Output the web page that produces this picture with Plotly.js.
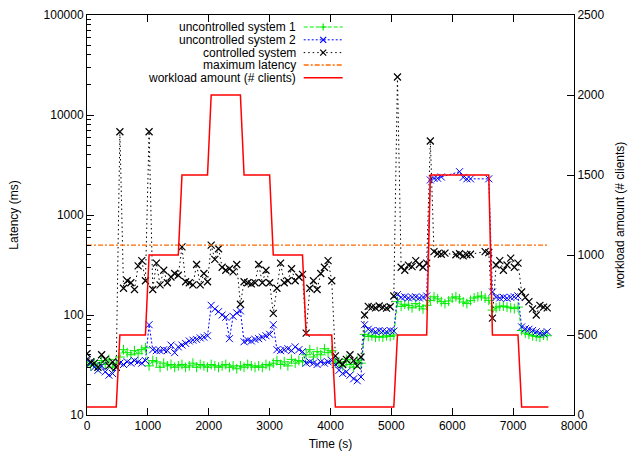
<!DOCTYPE html>
<html>
<head>
<meta charset="utf-8">
<script src="https://cdn.plot.ly/plotly-3.0.1.min.js"></script>
<style>html,body{margin:0;padding:0;background:#fff;}#chart{width:638px;height:455px;}</style>
</head>
<body>
<div id="chart"></div>
<script>
// ---- data ----
const timeSec = [
  0,60,120,180,240,300,360,420,480,540,
  600,660,720,780,840,900,960,1020,1080,1140,
  1200,1260,1320,1380,1440,1500,1560,1620,1680,1740,
  1800,1860,1920,1980,2040,2100,2160,2220,2280,2340,
  2400,2460,2520,2580,2640,2700,2760,2820,2880,2940,
  3000,3060,3120,3180,3240,3300,3360,3420,3480,3540,
  3600,3660,3720,3780,3840,3900,3960,4020,4080,4140,
  4200,4260,4320,4380,4440,4500,4560,4620,4680,4740,
  4800,4860,4920,4980,5040,5100,5160,5220,5280,5340,
  5400,5460,5520,5580,5640,5700,5760,5820,5880,5940,
  6000,6060,6120,6180,6240,6300,6360,6420,6480,6540,
  6600,6660,6720,6780,6840,6900,6960,7020,7080,7140,
  7200,7260,7320,7380,7440,7500,7560
];

const uncontrolled1 = [
  34,31,33,30,35,32,36,30,33,
  38,45,42,40,44,41,45,47,
  31,35,34,30,33,31,32,30,31,
  32,30,31,33,30,32,31,30,
  32,31,30,31,32,30,31,29,31,
  30,32,31,30,31,30,32,31,
  33,35,32,34,31,36,33,35,34,
  40,45,38,43,40,46,42,44,
  33,34,31,36,32,30,35,33,
  64,61,62,60,61,60,62,61,63,
  136,122,128,124,118,130,122,115,125,
  140,152,145,136,130,138,148,152,145,135,130,140,148,152,155,148,140,
  112,118,122,123,120,118,116,120,
  70,66,64,62,61,60,63,62
];

const uncontrolled2 = [
  36,33,30,28,31,27,25,26,30,
  33,32,34,33,35,34,33,35,
  80,45,44,44,45,44,50,42,48,
  50,52,55,56,57,59,60,62,
  125,115,108,100,95,58,97,105,110,
  54,56,55,57,58,60,62,64,
  80,45,44,45,46,44,48,45,43,
  33,34,33,32,34,33,34,35,
  32,28,26,27,25,23,22,24,
  80,72,70,68,70,69,68,70,69,
  160,150,152,148,150,152,148,150,155,
  2240,2320,2330,2400,null,null,null,null,2710,2380,2300,2300,null,null,null,null,2300,
  170,150,148,150,147,150,152,155,
  76,73,72,70,68,66,65,68
];

const controlled = [
  41,34,33,30,40,36,31,34,30,
  6800,185,220,210,180,310,350,220,
  6800,180,330,200,280,210,240,260,250,
  480,215,210,200,320,200,260,215,
  500,360,460,300,280,290,270,320,128,
  215,210,205,210,320,210,280,210,
  104,185,330,210,220,290,220,240,255,
  66,185,220,180,260,300,350,220,
  39,34,32,36,40,35,31,38,
  100,122,120,118,123,119,117,121,155,
  24000,300,280,315,305,350,320,300,330,
  5500,430,410,405,415,null,null,400,410,390,400,405,null,null,null,430,420,
  93,316,350,280,316,370,300,330,
  170,150,136,115,100,125,120,118
];

const maxLatencyTime = [0, 7580];
const maxLatencyMs = [500, 500];

const workloadTime = [0,480,540,960,1020,1500,1560,1980,2040,2520,2580,3000,3060,3540,3600,4020,4080,5040,5100,5580,5640,6600,6660,7080,7140,7580];
const workloadClients = [50,50,500,500,1000,1000,1500,1500,2000,2000,1500,1500,1000,1000,500,500,50,50,500,500,1500,1500,500,500,50,50];

const seriesNames = ['uncontrolled system 1','uncontrolled system 2','controlled system','maximum latency','workload amount (# clients)'];
const yTickVals = [10,100,1000,10000,100000];
const yTickText = ['10','100','1000','10000','100000'];
const yMinorVals = [20,30,40,50,60,70,80,90,200,300,400,500,600,700,800,900,2000,3000,4000,5000,6000,7000,8000,9000,20000,30000,40000,50000,60000,70000,80000,90000];

// ---- styles ----
const GREEN = '#00ee00', BLUE = '#0000ff', BLACK = '#000000', ORANGE = '#ff6a00', RED = '#ff0000';
const FONT = 'Liberation Sans, Arial, Helvetica, sans-serif';

const traces = [
  {x: timeSec, y: uncontrolled1, name: seriesNames[0], type: 'scatter', mode: 'lines+markers',
   line: {color: GREEN, width: 1, dash: '4px,2px'},
   marker: {symbol: 'cross-thin-open', size: 7, color: GREEN, line: {color: GREEN, width: 1}}},
  {x: timeSec, y: uncontrolled2, name: seriesNames[1], type: 'scatter', mode: 'lines+markers', connectgaps: true,
   line: {color: BLUE, width: 1, dash: '2px,2px'},
   marker: {symbol: 'x-thin-open', size: 7, color: BLUE, line: {color: BLUE, width: 1}}},
  {x: timeSec, y: controlled, name: seriesNames[2], type: 'scatter', mode: 'lines+markers', connectgaps: true,
   line: {color: BLACK, width: 1, dash: '1.5px,3px'},
   marker: {symbol: 'x-thin-open', size: 7, color: BLACK, line: {color: BLACK, width: 1.2}}},
  {x: maxLatencyTime, y: maxLatencyMs, name: seriesNames[3], type: 'scatter', mode: 'lines',
   line: {color: ORANGE, width: 1.3, dash: '5px,2px,2px,2px'}},
  {x: workloadTime, y: workloadClients, name: seriesNames[4], type: 'scatter', mode: 'lines', yaxis: 'y2',
   line: {color: RED, width: 1.5}}
];

// ---- custom gnuplot-style key (text right, sample left) ----
const keyTextX = 0.431, keyX0 = 0.445, keyX1 = 0.525, keyMid = 0.485;
const keyY = [0.970, 0.938, 0.906, 0.875, 0.843];
const keyStyle = [
  {c: GREEN, d: '4px,2px', m: '+', w: 1},
  {c: BLUE, d: '2px,2px', m: 'x', w: 1},
  {c: BLACK, d: '1.5px,3px', m: 'x', w: 1},
  {c: ORANGE, d: '5px,2px,2px,2px', m: null, w: 1.3},
  {c: RED, d: 'solid', m: null, w: 1.5}
];
const annotations = [], shapes = [];
seriesNames.forEach((nm, i) => {
  annotations.push({xref: 'paper', yref: 'paper', x: keyTextX, y: keyY[i], xanchor: 'right', yanchor: 'middle',
    text: nm, showarrow: false, borderpad: 0, font: {family: FONT, size: 12, color: '#000'}});
  shapes.push({type: 'line', xref: 'paper', yref: 'paper', x0: keyX0, x1: keyX1, y0: keyY[i], y1: keyY[i],
    line: {color: keyStyle[i].c, width: keyStyle[i].w, dash: keyStyle[i].d}});
  if (keyStyle[i].m) {
    const p = keyStyle[i].m === '+' ? 'M-3.5,0L3.5,0M0,-3.5L0,3.5' : 'M-3,-3L3,3M-3,3L3,-3';
    shapes.push({type: 'path', xref: 'paper', yref: 'paper', xsizemode: 'pixel', ysizemode: 'pixel',
      xanchor: keyMid, yanchor: keyY[i], path: p, line: {color: keyStyle[i].c, width: 1.2}});
  }
});

const axisCommon = {showgrid: false, zeroline: false, showline: true, linecolor: '#000', linewidth: 1,
  ticks: 'inside', tickcolor: '#000', ticklen: 7, tickwidth: 1, tickfont: {family: FONT, size: 12, color: '#000'}};

const layout = {
  width: 638, height: 455,
  margin: {l: 87, r: 64, t: 15, b: 40, pad: 0},
  paper_bgcolor: '#fff', plot_bgcolor: '#fff',
  font: {family: FONT, size: 12, color: '#000'},
  showlegend: false,
  xaxis: Object.assign({}, axisCommon, {range: [0, 8000], tick0: 0, dtick: 1000, mirror: 'ticks',
    title: {text: 'Time (s)', font: {family: FONT, size: 12}, standoff: 7}}),
  yaxis: Object.assign({}, axisCommon, {type: 'log', range: [1, 5], tickmode: 'array', tickvals: yTickVals, ticktext: yTickText,
    minor: {ticks: 'inside', ticklen: 4, tickcolor: '#000', tickmode: 'array', tickvals: yMinorVals, showgrid: false},
    title: {text: 'Latency (ms)', font: {family: FONT, size: 12}, standoff: 22}}),
  yaxis2: Object.assign({}, axisCommon, {overlaying: 'y', side: 'right', range: [0, 2500], tick0: 0, dtick: 500,
    title: {text: 'workload amount (# clients)', font: {family: FONT, size: 12}, standoff: 12}}),
  annotations: annotations,
  shapes: shapes
};

Plotly.newPlot('chart', traces, layout, {staticPlot: true, displayModeBar: false});
</script>
</body>
</html>
